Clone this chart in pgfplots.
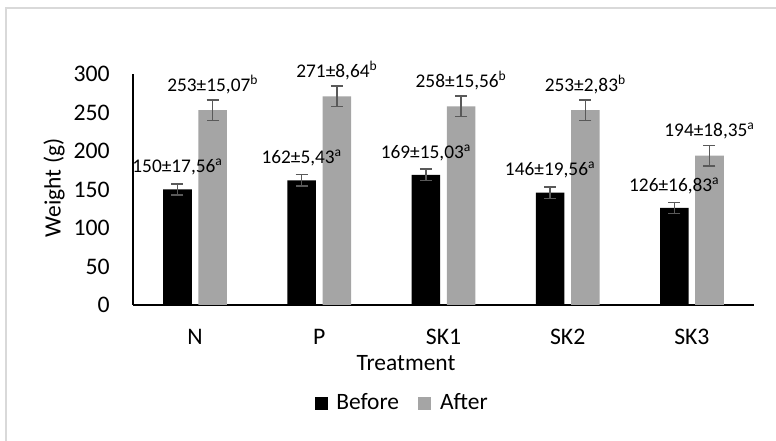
\documentclass[border=0pt]{standalone}
\usepackage{pgfplots}
\pgfplotsset{compat=1.18}
\usepackage{pgfplotstable}
\usepackage{fontspec}
\setmainfont{Carlito}
\definecolor{aftergray}{HTML}{A5A5A5}
\definecolor{errgray}{HTML}{595959}
\definecolor{bordergray}{HTML}{D9D9D9}

\pgfplotstableread{
x y e lab
0 150 7.40 {150±17,56\textsuperscript{a}}
1 162 7.40 {162±5,43\textsuperscript{a}}
2 169 7.40 {169±15,03\textsuperscript{a}}
3 146 7.40 {146±19,56\textsuperscript{a}}
4 126 7.40 {126±16,83\textsuperscript{a}}
}\before

\pgfplotstableread{
x y e lab
0 253 13.36 {253±15,07\textsuperscript{b}}
1 271 13.36 {271±8,64\textsuperscript{b}}
2 258 13.36 {258±15,56\textsuperscript{b}}
3 253 13.36 {253±2,83\textsuperscript{b}}
4 194 13.36 {194±18,35\textsuperscript{a}}
}\after

\begin{document}
\begin{tikzpicture}[x=0.75pt,y=0.75pt]
\useasboundingbox (0,0) rectangle (776,441);
\draw[bordergray, line width=1.2pt] (6,-5) -- (6,433) -- (781,433);
\begin{axis}[
  at={(99.75pt,102pt)}, anchor=south west,
  scale only axis, width=465.75pt, height=173.25pt,
  xmin=-0.5, xmax=4.5, ymin=0, ymax=300,
  axis lines*=left,
  axis line style={black, line width=1.2pt},
  major tick length=0pt,
  xtick={0,1,2,3,4}, xticklabels={N,P,SK1,SK2,SK3},
  ytick={0,50,100,150,200,250,300},
  /pgf/number format/assume math mode=true,
  tick label style={font=\fontsize{17.8}{20}\selectfont, text=black},
  yticklabel style={anchor=east, inner sep=0pt, xshift=-17.25pt},
  xticklabel style={anchor=base, inner sep=0pt, yshift=-29.5pt},
  ybar, bar width=21.4pt,
  clip=false,
  point meta=explicit symbolic,
  nodes near coords,
  legend columns=2,
  legend style={at={(0.434,-0.424)}, anchor=center, draw=none, fill=none,
    font=\fontsize{17.6}{20}\selectfont, inner sep=0pt,
    /tikz/every odd column/.style={column sep=4.5pt},
    /tikz/every even column/.style={column sep=12.5pt}},
  legend image code/.code={\fill[#1] (0pt,-5.25pt) rectangle (9.75pt,4.5pt);},
]
\addplot[fill=black, draw=none, bar shift=-13.2pt,
  error bars/.cd, y dir=both, y explicit,
  error bar style={errgray, line width=1.1pt},
  error mark options={rotate=90, mark size=4.5pt, errgray, line width=1.1pt}]
  [nodes near coords style={anchor=base, yshift=12.5pt, inner sep=0pt, text=black, font=\fontsize{14.5}{16}\selectfont}]
  table[x=x, y=y, y error=e, meta=lab] {\before};
\addplot[fill=aftergray, draw=none, bar shift=13.2pt,
  error bars/.cd, y dir=both, y explicit,
  error bar style={errgray, line width=1.1pt},
  error mark options={rotate=90, mark size=4.5pt, errgray, line width=1.1pt}]
  [nodes near coords style={anchor=base, yshift=14pt, inner sep=0pt, text=black, font=\fontsize{14.5}{16}\selectfont}]
  table[x=x, y=y, y error=e, meta=lab] {\after};
\legend{Before, After}
\end{axis}
\node[anchor=base, inner sep=0pt, font=\fontsize{17.6}{20}\selectfont] at (406,70.6) {Treatment};
\node[rotate=90, anchor=center, inner sep=0pt, font=\fontsize{17.6}{20}\selectfont] at (54,253) {Weight (g)};
\end{tikzpicture}
\end{document}
